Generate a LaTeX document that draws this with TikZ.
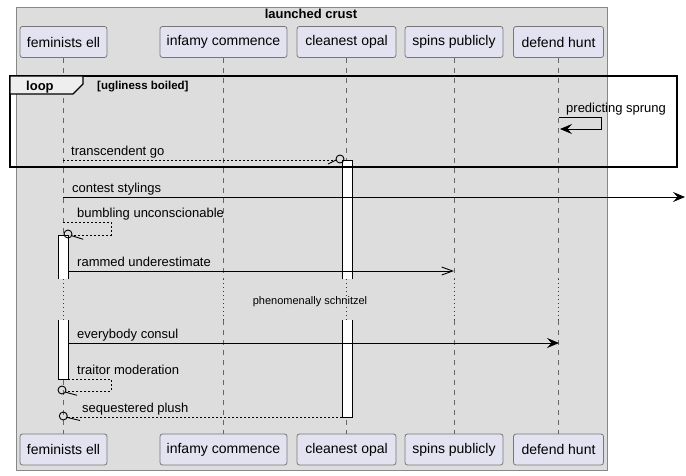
\documentclass[tikz,border=0pt]{standalone}
\usepackage{fontspec}
\setmainfont{Liberation Sans}
\usetikzlibrary{arrows.meta,calc}
\definecolor{bgc}{HTML}{DDDDDD}
\definecolor{boxb}{HTML}{888888}
\definecolor{pfill}{HTML}{E2E2F0}
\definecolor{pbord}{HTML}{777777}
\definecolor{lifec}{HTML}{666666}
\definecolor{delc}{HTML}{A80036}
\definecolor{tabc}{HTML}{EEEEEE}
\begin{document}
\begin{tikzpicture}[x=1pt,y=-1pt,
 pbox/.style={draw=pbord, fill=pfill, rounded corners=2.5pt, minimum height=31pt, inner sep=0pt, font=\fontsize{14pt}{16pt}\selectfont, line width=0.8pt},
 life/.style={draw=lifec, dash pattern=on 5pt off 5pt, line width=0.8pt},
 delayl/.style={draw=delc, dash pattern=on 1pt off 3pt, line width=0.9pt},
 msg/.style={draw=black, line width=0.9pt},
 dmsg/.style={msg, dash pattern=on 2pt off 2pt},
 lbl/.style={anchor=base west, inner sep=0pt, font=\fontsize{13pt}{15pt}\selectfont},
 fillarrow/.style={-{Stealth[length=12pt,width=10pt,inset=4.5pt]}},
 openarrow/.style={-{Straight Barb[length=11pt,width=8pt]}},
 actbar/.style={fill=white},
 ring/.style={draw=black, line width=0.9pt},
]
\useasboundingbox (0,0) rectangle (686,475);
% group box
\node[draw=boxb, fill=bgc, line width=0.8pt, minimum width=591pt, minimum height=463pt, inner sep=0pt, anchor=north west] (grp) at (16,7) {};
\node[font=\bfseries\fontsize{13pt}{15pt}\selectfont, anchor=base, inner sep=0pt] (grpt) at (311,18) {launched crust};
% participants
\foreach \n/\x/\w/\t in {fe/63.5/87/feminists ell, ic/223.5/127/infamy commence, co/346.5/99/cleanest opal, sp/454/98/spins publicly, dh/558.5/90/defend hunt}{
  \node[pbox, minimum width=\w pt] (\n) at (\x,42) {\t};
  \node[pbox, minimum width=\w pt] (\n-b) at (\x,449.5) {\t};
}
% lifelines
\coordinate (dA) at (0,279);
\coordinate (dB) at (0,320);
\foreach \n in {fe,ic,co,sp,dh}{
  \draw[life] (\n.south) -- (\n.south |- dA);
  \draw[delayl] (\n.south |- dA) -- (\n.south |- dB);
  \draw[life] (\n.south |- dB) -- (\n-b.north);
}
% activation bars
\fill[white] (58,235) rectangle (68,279);
\draw[line width=0.9pt] (58,279) -- (58,235) -- (68,235) -- (68,279);
\fill[white] (58,320) rectangle (68,379);
\draw[line width=0.9pt] (58,320) -- (58,379) -- (68,379) -- (68,320);
\fill[white] (342,160) rectangle (352,279);
\draw[line width=0.9pt] (342,279) -- (342,160) -- (352,160) -- (352,279);
\fill[white] (342,320) rectangle (352,417);
\draw[line width=0.9pt] (342,320) -- (342,417) -- (352,417) -- (352,320);
% loop frame
\draw[line width=1.5pt] (10,76) rectangle (677,167);
\draw[line width=1.2pt, fill=tabc] (10,76) -- (83,76) -- (83,84) -- (73,94) -- (10,94) -- cycle;
\node[anchor=base west, inner sep=0pt, font=\bfseries\fontsize{13pt}{15pt}\selectfont] (looplbl) at (26,90) {loop};
\node[anchor=base west, inner sep=0pt, font=\bfseries\fontsize{11.5pt}{13pt}\selectfont] (loopcond) at (97,89) {[ugliness boiled]};
% message 1: predicting sprung
\coordinate (ps1) at (559,117);
\coordinate (ps2) at (560,129);
\draw[msg, fillarrow] (ps1) -- ++(42,0) -- ++(0,12) -- (ps2);
\node[lbl] (psl) at (566,112) {predicting sprung};
% message 2: transcendent go
\coordinate (tg1) at (63,160);
\coordinate (tg2) at (336,160);
\coordinate (tgc) at (340,159);
\draw[dmsg] (tg1) -- (tg2);
\draw[ring] (tgc) circle (4pt);
\draw[msg] (tg2) -- (328,164);
\node[lbl] (tgl) at (71,155) {transcendent go};
% message 3: contest stylings
\coordinate (cs1) at (63,197);
\coordinate (cs2) at (685,197);
\draw[msg, fillarrow] (cs1) -- (cs2);
\node[lbl] (csl) at (72,192) {contest stylings};
% message 4: bumbling unconscionable
\coordinate (bu1) at (63,222);
\coordinate (bu2) at (72,235);
\coordinate (buc) at (68,234);
\draw[dmsg] (bu1) -- (111,222) -- (111,235) -- (bu2);
\draw[ring] (buc) circle (4pt);
\draw[msg] (71.7,235.7) -- (83.3,239.3);
\node[lbl] (bul) at (77,217) {bumbling unconscionable};
% message 5: rammed underestimate
\coordinate (ru1) at (68,271);
\coordinate (ru2) at (454,271);
\draw[msg, openarrow] (ru1) -- (ru2);
\node[lbl] (rul) at (77,266) {rammed underestimate};
% delay
\node[anchor=base, inner sep=0pt, font=\fontsize{11pt}{13pt}\selectfont] (dly) at (310,304) {phenomenally schnitzel};
% message 6: everybody consul
\coordinate (ec1) at (68,343);
\coordinate (ec2) at (559,343);
\draw[msg, fillarrow] (ec1) -- (ec2);
\node[lbl] (ecl) at (77,338) {everybody consul};
% message 7: traitor moderation
\coordinate (tm1) at (68,379);
\coordinate (tm2) at (66,391);
\coordinate (tmc) at (62,390);
\draw[dmsg] (tm1) -- (111,379) -- (111,391) -- (tm2);
\draw[ring] (tmc) circle (4pt);
\draw[msg] (65,392) -- (77,395.3);
\node[lbl] (tml) at (77,374) {traitor moderation};
% message 8: sequestered plush
\coordinate (sq1) at (342,417);
\coordinate (sq2) at (67,417);
\coordinate (sqc) at (63.3,416);
\draw[dmsg] (sq1) -- (sq2);
\draw[ring] (sqc) circle (4pt);
\draw[msg] (66.7,417.3) -- (80,420.5);
\node[lbl] (sql) at (82,412) {sequestered plush};
\end{tikzpicture}
\end{document}
